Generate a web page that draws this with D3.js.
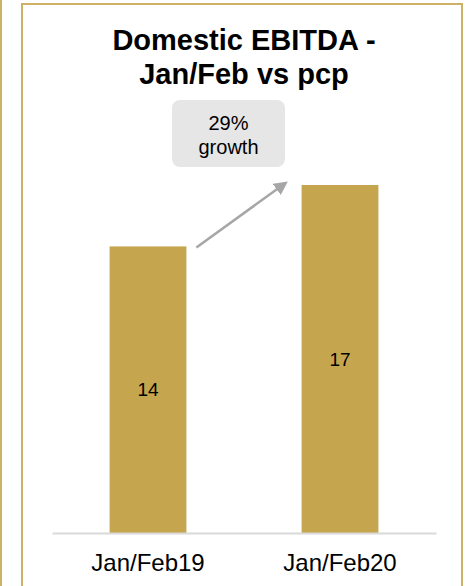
<!DOCTYPE html>
<html>
<head>
<meta charset="utf-8">
<script src="https://cdn.jsdelivr.net/npm/d3@7"></script>
<style>
  html, body { margin: 0; padding: 0; background: #fff; }
  svg { display: block; font-family: Arial, "Liberation Sans", sans-serif; }
</style>
</head>
<body>
<svg id="chart" width="467" height="586"></svg>
<script>
// Domestic EBITDA, Jan/Feb period vs prior corresponding period
const categories = ["Jan/Feb19", "Jan/Feb20"];
const values = [14, 17];
const growthLabel = ["29%", "growth"];
const titleLines = ["Domestic EBITDA -", "Jan/Feb vs pcp"];

const W = 467, H = 586;
const gold = "#c5a54e";
const frameGold = "#cdb164";

const svg = d3.select("#chart");

// Panel frame and the neighbouring panel edge on the left
svg.append("line")
  .attr("x1", 1).attr("x2", 1).attr("y1", 0).attr("y2", H)
  .attr("stroke", frameGold).attr("stroke-width", 2);
svg.append("path")
  .attr("d", `M22,${H + 2} V4 H462 V${H + 2}`)
  .attr("fill", "none")
  .attr("stroke", frameGold).attr("stroke-width", 2);

// Title
svg.append("g").selectAll("text")
  .data(titleLines)
  .join("text")
  .attr("x", 244)
  .attr("y", (d, i) => 50 + i * 34)
  .attr("text-anchor", "middle")
  .attr("font-weight", "bold")
  .attr("font-size", 29)
  .attr("fill", "#000")
  .text(d => d);

// Scales
const x = d3.scaleBand()
  .domain(categories)
  .range([52, 436])
  .paddingInner(0.6)
  .paddingOuter(0.3);

const y = d3.scaleLinear()
  .domain([0, 20])
  .range([533, 123.6]);

// Bars
svg.append("g").selectAll("rect")
  .data(values)
  .join("rect")
  .attr("x", (d, i) => x(categories[i]))
  .attr("y", d => y(d))
  .attr("width", x.bandwidth())
  .attr("height", d => y(0) - y(d))
  .attr("fill", gold);

// Value labels inside bars
svg.append("g").selectAll("text")
  .data(values)
  .join("text")
  .attr("x", (d, i) => x(categories[i]) + x.bandwidth() / 2)
  .attr("y", d => (y(d) + y(0)) / 2)
  .attr("dy", "0.35em")
  .attr("text-anchor", "middle")
  .attr("font-size", 19)
  .attr("fill", "#000")
  .text(d => d);

// Category axis
const xAxis = svg.append("g")
  .attr("transform", `translate(0,${y(0)})`)
  .call(d3.axisBottom(x).tickSize(0).tickPadding(21));
xAxis.select(".domain")
  .attr("stroke", "#d9d9d9").attr("stroke-width", 2);
xAxis.selectAll("text")
  .attr("font-size", 24)
  .attr("font-family", "Arial, 'Liberation Sans', sans-serif")
  .attr("fill", "#000");

// Growth arrow between bar tops
const x0 = x(categories[0]) + x.bandwidth() + 10;
const x1 = x(categories[1]) - 16;
const ya = y(values[0]) + 1;
const yb = y(values[1]) - 2;
const defs = svg.append("defs");
defs.append("marker")
  .attr("id", "arrowhead")
  .attr("viewBox", "0 0 10 10")
  .attr("refX", 8).attr("refY", 5)
  .attr("markerWidth", 5.5).attr("markerHeight", 5.5)
  .attr("markerUnits", "strokeWidth")
  .attr("orient", "auto")
  .append("path")
  .attr("d", "M0,0 L10,5 L0,10 Z")
  .attr("fill", "#a6a6a6");
svg.append("line")
  .attr("x1", x0).attr("y1", ya)
  .attr("x2", x1).attr("y2", yb)
  .attr("stroke", "#a6a6a6").attr("stroke-width", 2.5)
  .attr("marker-end", "url(#arrowhead)");

// Growth callout
const callout = svg.append("g");
callout.append("rect")
  .attr("x", 172).attr("y", 100)
  .attr("width", 113).attr("height", 67)
  .attr("rx", 8)
  .attr("fill", "#e6e6e6");
callout.selectAll("text")
  .data(growthLabel)
  .join("text")
  .attr("x", 228.5)
  .attr("y", (d, i) => 130 + i * 24)
  .attr("text-anchor", "middle")
  .attr("font-size", 20)
  .attr("fill", "#000")
  .text(d => d);
</script>
</body>
</html>
